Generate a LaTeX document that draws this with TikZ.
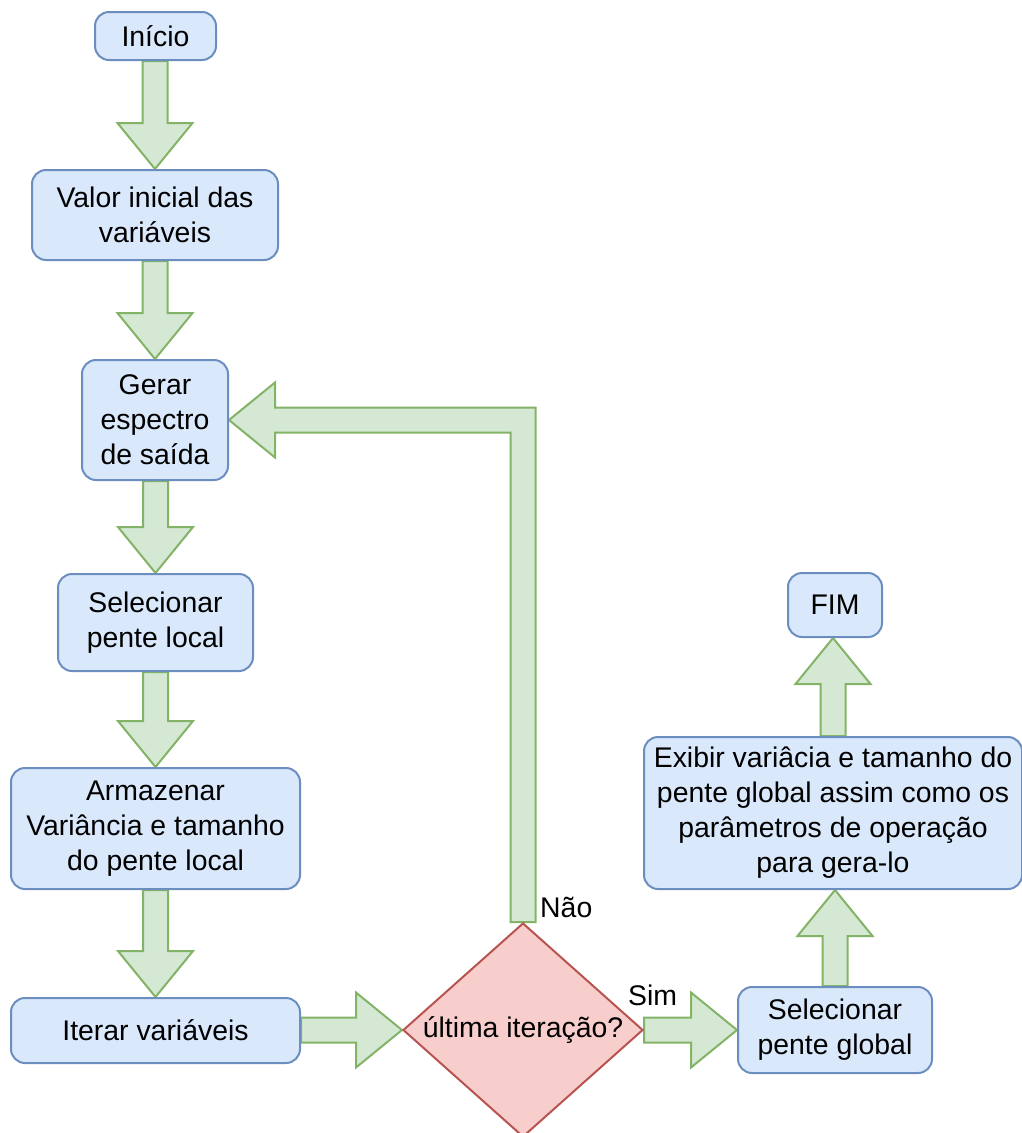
\documentclass[tikz,border=0pt]{standalone}
\usepackage{fontspec}
\setmainfont{Liberation Sans}
\usetikzlibrary{shapes.geometric,calc,backgrounds}
\definecolor{bfill}{HTML}{DAE8FC}
\definecolor{bstroke}{HTML}{6C8EBF}
\definecolor{gfill}{HTML}{D5E8D4}
\definecolor{gstroke}{HTML}{82B366}
\definecolor{rfill}{HTML}{F8CECC}
\definecolor{rstroke}{HTML}{B85450}
\tikzset{
  box/.style={draw=bstroke, fill=bfill, line width=2pt, rounded corners=14pt,
    align=center, inner sep=0pt, font=\fontsize{28.4}{35}\selectfont},
  decision/.style={diamond, draw=rstroke, fill=rfill, line width=2pt, inner sep=0pt,
    aspect=1.12, font=\fontsize{28.4}{35}\selectfont},
  flex/.style={draw=gstroke, fill=gfill, line width=2pt, line join=miter},
  lbl/.style={inner sep=0pt, font=\fontsize{28.4}{35}\selectfont}
}
\newcommand\fatdown[2]{%
  \draw[flex] ($(#1.south -| #2.north)+(-12.5,0)$) -- ($(#2.north)+(-12.5,46)$)
    -- ($(#2.north)+(-37.5,46)$) -- (#2.north) -- ($(#2.north)+(37.5,46)$)
    -- ($(#2.north)+(12.5,46)$) -- ($(#1.south -| #2.north)+(12.5,0)$) -- cycle;}
\newcommand\fatup[2]{%
  \draw[flex] ($(#1.north)+(-12.5,0)$) -- ($(#2.south -| #1.north)+(-12.5,-46)$)
    -- ($(#2.south -| #1.north)+(-37.5,-46)$) -- (#2.south -| #1.north) -- ($(#2.south -| #1.north)+(37.5,-46)$)
    -- ($(#2.south -| #1.north)+(12.5,-46)$) -- ($(#1.north)+(12.5,0)$) -- cycle;}
\newcommand\fatright[2]{%
  \draw[flex] ($(#1.east |- #2.west)+(0,12.5)$) -- ($(#2.west)+(-46,12.5)$)
    -- ($(#2.west)+(-46,37.5)$) -- (#2.west) -- ($(#2.west)+(-46,-37.5)$)
    -- ($(#2.west)+(-46,-12.5)$) -- ($(#1.east |- #2.west)+(0,-12.5)$) -- cycle;}
\begin{document}
\begin{tikzpicture}[x=1pt,y=1pt]
\useasboundingbox (0,0) rectangle (1022,-1133);
\node[box, minimum width=121pt, minimum height=48pt] (ini) at (155.5,-36) {Início};
\node[box, minimum width=246pt, minimum height=90pt] (valor) at (155,-215) {Valor inicial das\\variáveis};
\node[box, minimum width=146pt, minimum height=120pt] (gerar) at (155,-420) {Gerar\\espectro\\de saída};
\node[box, minimum width=195pt, minimum height=97pt] (sell) at (155.5,-622.5) {Selecionar\\pente local};
\node[box, minimum width=289pt, minimum height=121pt] (arm) at (155.5,-828.5) {Armazenar\\Variância e tamanho\\do pente local};
\node[box, minimum width=289pt, minimum height=65pt] (iter) at (155.5,-1030.5) {Iterar variáveis};
\node[decision, minimum width=240pt, minimum height=214pt] (dia) at (523,-1030) {última iteração?};
\node[box, minimum width=194pt, minimum height=86pt] (sg) at (835,-1030) {Selecionar\\pente global};
\node[box, minimum width=378pt, minimum height=152pt] (exib) at (833,-813) {Exibir variâcia e tamanho do\\pente global assim como os\\parâmetros de operação\\para gera-lo};
\node[box, minimum width=94pt, minimum height=64pt] (fim) at (835,-605) {FIM};
\node[lbl, anchor=base west] (nao) at (540,-917) {Não};
\node[lbl, anchor=base west] (sim) at (628,-1005) {Sim};
\begin{scope}[on background layer]
\fatdown{ini}{valor}
\fatdown{valor}{gerar}
\fatdown{gerar}{sell}
\fatdown{sell}{arm}
\fatdown{arm}{iter}
\fatright{iter}{dia}
\fatright{dia}{sg}
\fatup{sg}{exib}
\fatup{exib}{fim}
\draw[flex] ($(dia.north)+(-12.5,0)$) -- ($(dia.north |- gerar.east)+(-12.5,-12.5)$)
  -- ($(gerar.east)+(46,-12.5)$) -- ($(gerar.east)+(46,-37.5)$) -- (gerar.east)
  -- ($(gerar.east)+(46,37.5)$) -- ($(gerar.east)+(46,12.5)$)
  -- ($(dia.north |- gerar.east)+(12.5,12.5)$) -- ($(dia.north)+(12.5,0)$) -- cycle;
\end{scope}
\end{tikzpicture}
\end{document}
